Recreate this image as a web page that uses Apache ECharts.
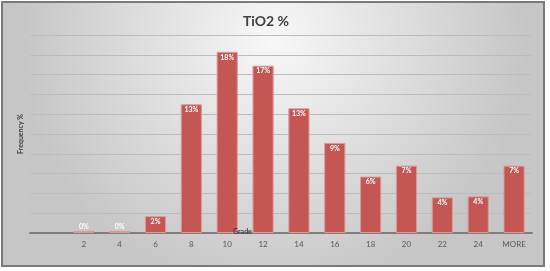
<!DOCTYPE html>
<html>
<head>
<meta charset="utf-8">
<script src="https://cdn.jsdelivr.net/npm/echarts@6/dist/echarts.min.js"></script>
<style>html,body{margin:0;padding:0;background:#fff;}#c{width:550px;height:271px;}</style>
</head>
<body>
<div id="c"></div>
<script>
var categories = ['', '2', '4', '6', '8', '10', '12', '14', '16', '18', '20', '22', '24', 'MORE'];
var frequency = [null, 0.2, 0.2, 1.7, 13.0, 18.3, 16.9, 12.6, 9.1, 5.7, 6.8, 3.6, 3.7, 6.8];
var yTicks = [0, 20, 2];

var chart = echarts.init(document.getElementById('c'), null, {renderer: 'canvas'});
var data = frequency.map(function (v) {
  if (v === null) return null;
  return v < 1 ? {value: v, label: {position: 'top', distance: 1}} : v;
});
chart.setOption({
  animation: false,
  graphic: [{
    type: 'rect', z: -10, silent: true,
    shape: {x: 2, y: 2, width: 542, height: 264},
    style: {
      fill: new echarts.graphic.RadialGradient(0.5, 0.15, 0.95, [
        {offset: 0, color: '#f8f8f8'},
        {offset: 1, color: '#c6c6c6'}
      ]),
      stroke: '#7a7a7a', lineWidth: 2
    }
  }, {
    type: 'text', left: 233, top: 228, z: 10,
    style: {text: 'Grade', fill: '#404040', font: 'bold 7px Lato'}
  }],
  title: {
    text: 'TiO2 %', left: 261, top: 9, textAlign: 'center',
    textStyle: {fontFamily: 'Lato', fontWeight: 'bold', fontSize: 14, color: '#404040'}
  },
  grid: {left: 30, right: 18, top: 35, bottom: 38},
  xAxis: {
    type: 'category', data: categories,
    axisLine: {lineStyle: {color: '#7f7f7f', width: 2}},
    axisTick: {show: false},
    axisLabel: {color: '#595959', fontSize: 8, fontFamily: 'Lato', margin: 7}
  },
  yAxis: {
    type: 'value', min: yTicks[0], max: yTicks[1], interval: yTicks[2],
    name: 'Frequency %', nameLocation: 'middle', nameRotate: 90, nameGap: 6,
    nameTextStyle: {color: '#404040', fontSize: 7, fontWeight: 'bold', fontFamily: 'Lato'},
    axisLabel: {show: false}, axisLine: {show: false}, axisTick: {show: false},
    splitLine: {lineStyle: {color: '#bcbcbc', width: 1}}
  },
  series: [{
    type: 'bar', data: data, barCategoryGap: '41%',
    itemStyle: {color: '#c45654', borderColor: '#dc9a98', borderWidth: 1},
    label: {
      show: true, position: 'insideTop', distance: 2,
      color: '#ffffff', fontSize: 7, fontWeight: 'bold', fontFamily: 'Lato',
      formatter: function (p) { return Math.round(p.value) + '%'; }
    }
  }]
});
</script>
</body>
</html>
